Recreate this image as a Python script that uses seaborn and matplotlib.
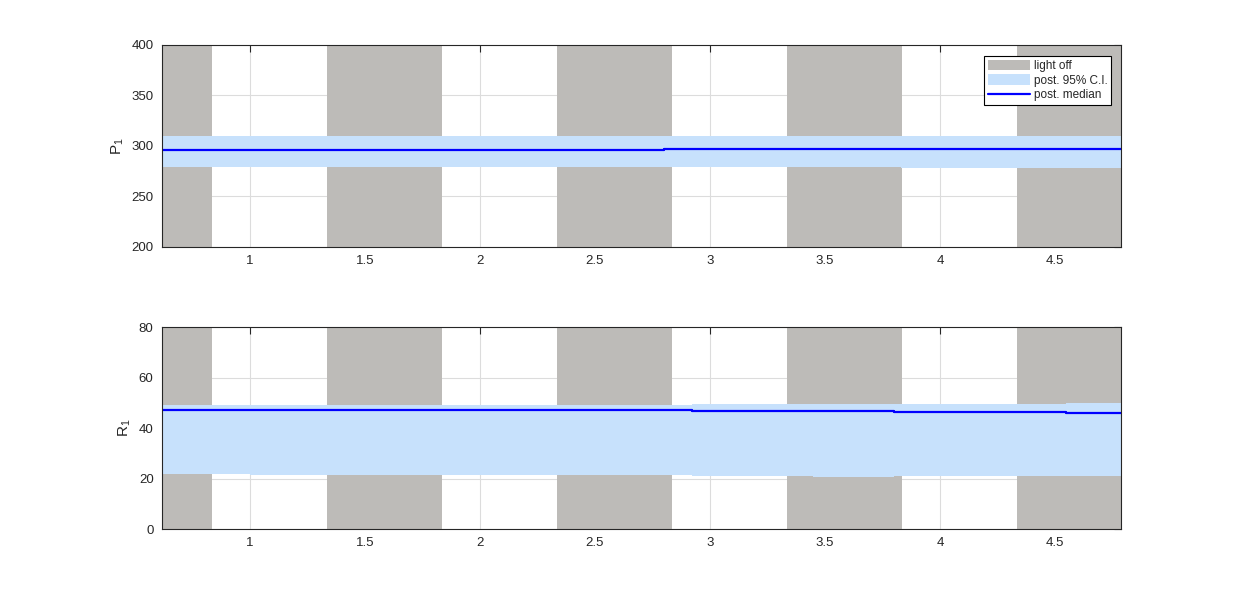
import numpy as np
import pandas as pd
import matplotlib.pyplot as plt
import seaborn as sns

# light-off periods (days)
off_start = [0.617, 1.333, 2.333, 3.333, 4.333]
off_end = [0.833, 1.833, 2.833, 3.833, 4.787]

# P1 posterior (step values)
p_t = [0.617, 1.20, 2.80, 3.00, 3.83, 4.787]
p_med = [296.5, 296.5, 297.2, 297.5, 297.5, 297.5]
p_lo = [279.5, 278.8, 278.8, 278.8, 278.5, 278.5]
p_hi = [310.0, 310.0, 310.0, 310.0, 310.0, 310.0]

# R1 posterior
r_t = [0.617, 1.00, 2.00, 2.92, 3.45, 3.80, 4.30, 4.55, 4.787]
r_med = [47.2, 47.2, 47.2, 46.9, 46.6, 46.4, 46.2, 46.0, 45.9]
r_lo = [21.6, 21.3, 21.2, 20.9, 20.6, 20.8, 21.0, 21.0, 21.0]
r_hi = [49.3, 49.3, 49.3, 49.5, 49.6, 49.6, 49.6, 49.8, 49.8]

xticks = [1, 1.5, 2, 2.5, 3, 3.5, 4, 4.5]
xlim = (0.617, 4.787)

sns.set_style("white")
plt.rcParams['font.family'] = ['Liberation Sans', 'DejaVu Sans']

fig = plt.figure(figsize=(12.4, 5.96), dpi=100)
ax1 = fig.add_axes([0.1306, 0.5856, 0.7734, 0.3389])
ax2 = fig.add_axes([0.1306, 0.1124, 0.7734, 0.3389])

panels = [
    (ax1, p_t, p_med, p_lo, p_hi, (200, 400), [200, 250, 300, 350, 400], 'P$_\\mathregular{1}$'),
    (ax2, r_t, r_med, r_lo, r_hi, (0, 80), [0, 20, 40, 60, 80], 'R$_\\mathregular{1}$'),
]

for ax, t, med, lo, hi, ylim, yt, lab in panels:
    ax.grid(True, color='#dcdcdc', linewidth=0.8, zorder=0)
    ax.set_axisbelow(True)
    for i, (a, b) in enumerate(zip(off_start, off_end)):
        ax.axvspan(a, b, color='#bdbbb8', lw=0, zorder=1,
                   label='light off' if i == 0 else None)
    ax.fill_between(t, lo, hi, step='post', color='#c7e1fc', lw=0, zorder=2,
                    label='post. 95% C.I.')
    df = pd.DataFrame({'t': t, 'med': med})
    sns.lineplot(data=df, x='t', y='med', ax=ax, color='#0000ff', lw=1.6,
                 drawstyle='steps-post', zorder=3, label='post. median')
    ax.set_xlim(*xlim)
    ax.set_ylim(*ylim)
    ax.set_xticks(xticks)
    ax.set_xticklabels([f'{v:g}' for v in xticks])
    ax.set_yticks(yt)
    ax.set_xlabel('')
    ax.set_ylabel(lab, fontsize=11, color='#262626')
    ax.tick_params(direction='in', length=5, width=0.8, top=True, right=True,
                   labelsize=9.5, colors='#262626', pad=6)
    for s in ax.spines.values():
        s.set_visible(True)
        s.set_color('#262626')
        s.set_linewidth(0.8)
        s.set_zorder(5)

leg = ax1.legend(loc='upper right', bbox_to_anchor=(0.9896, 0.9455), fontsize=8.5,
                 frameon=True, fancybox=False, edgecolor='black', framealpha=1,
                 facecolor='white', borderpad=0.3, labelspacing=0.2,
                 handlelength=3.6, handleheight=1.0, handletextpad=0.3,
                 borderaxespad=0)
leg.get_frame().set_linewidth(0.8)
ax2.get_legend().remove()

fig.savefig('out.png', dpi=100)
